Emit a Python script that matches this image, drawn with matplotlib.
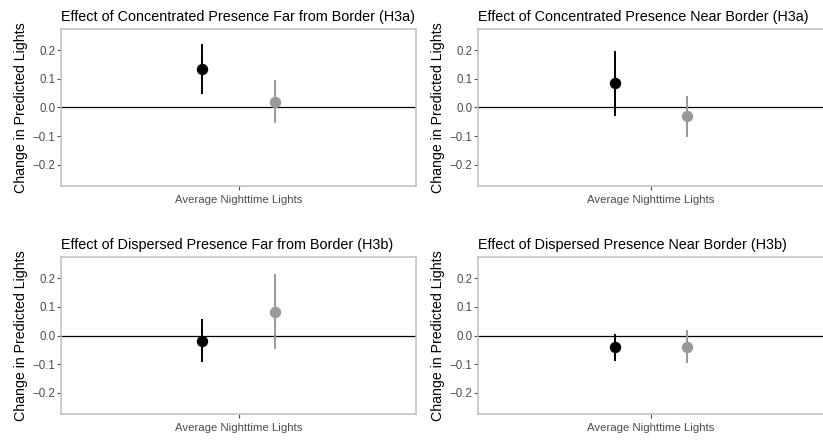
import matplotlib
matplotlib.use("Agg")
import matplotlib.pyplot as plt

plt.rcParams['font.family'] = ['Liberation Sans', 'DejaVu Sans']

titles = [
    "Effect of Concentrated Presence Far from Border (H3a)",
    "Effect of Concentrated Presence Near Border (H3a)",
    "Effect of Dispersed Presence Far from Border (H3b)",
    "Effect of Dispersed Presence Near Border (H3b)",
]
groups = ["Low", "High"]
estimates = [
    [0.134, 0.021],
    [0.086, -0.031],
    [-0.019, 0.084],
    [-0.042, -0.042],
]
lower = [
    [0.046, -0.056],
    [-0.029, -0.102],
    [-0.092, -0.046],
    [-0.089, -0.098],
]
upper = [
    [0.223, 0.097],
    [0.197, 0.040],
    [0.058, 0.214],
    [0.007, 0.020],
]
yticks = [-0.2, -0.1, 0.0, 0.1, 0.2]
ytick_labels = ["\u22120.2", "\u22120.1", "0.0", "0.1", "0.2"]
xlabel = "Average Nighttime Lights"
ylabel = "Change in Predicted Lights"

colors = ["#000000", "#999999"]
offsets = [-0.125, 0.125]

fig = plt.figure(figsize=(8.23, 4.4), dpi=100)

W, H = 823.0, 440.0
boxes = [
    (61, 29, 416, 186),
    (478, 29, 823.5, 186),
    (61, 257, 416, 414),
    (478, 257, 823.5, 414),
]

for i, (x0, y0, x1, y1) in enumerate(boxes):
    ax = fig.add_axes([x0 / W, 1 - y1 / H, (x1 - x0) / W, (y1 - y0) / H])
    ax.axhline(0, color="black", lw=0.9, zorder=1)
    for j in range(len(groups)):
        x = 1 + offsets[j]
        ax.plot([x, x], [lower[i][j], upper[i][j]], color=colors[j],
                lw=1.4, solid_capstyle="butt", zorder=2)
        ax.plot([x], [estimates[i][j]], marker="o", ms=7.2, color=colors[j],
                mec=colors[j], zorder=3)
    ax.set_xlim(0.4, 1.6)
    ax.set_ylim(-0.275, 0.275)
    ax.set_xticks([1])
    ax.set_xticklabels([""])
    ax.set_yticks(yticks)
    ax.set_yticklabels(ytick_labels)
    ax.tick_params(axis="both", colors="#4D4D4D", labelcolor="#4D4D4D",
                   labelsize=8.3, length=2.7, width=0.8, pad=1.5)
    for s in ax.spines.values():
        s.set_color("#BFBFBF")
        s.set_linewidth(1.1)
    ax.set_xlabel(xlabel, fontsize=8.2, color="#4D4D4D", labelpad=2)
    ax.set_ylabel(ylabel, fontsize=10.2, color="black", labelpad=3)
    ax.set_title(titles[i], fontsize=10.4, loc="left", pad=6, x=0)
    ax.set_facecolor("white")

fig.savefig("out.png", dpi=100, facecolor="white")
